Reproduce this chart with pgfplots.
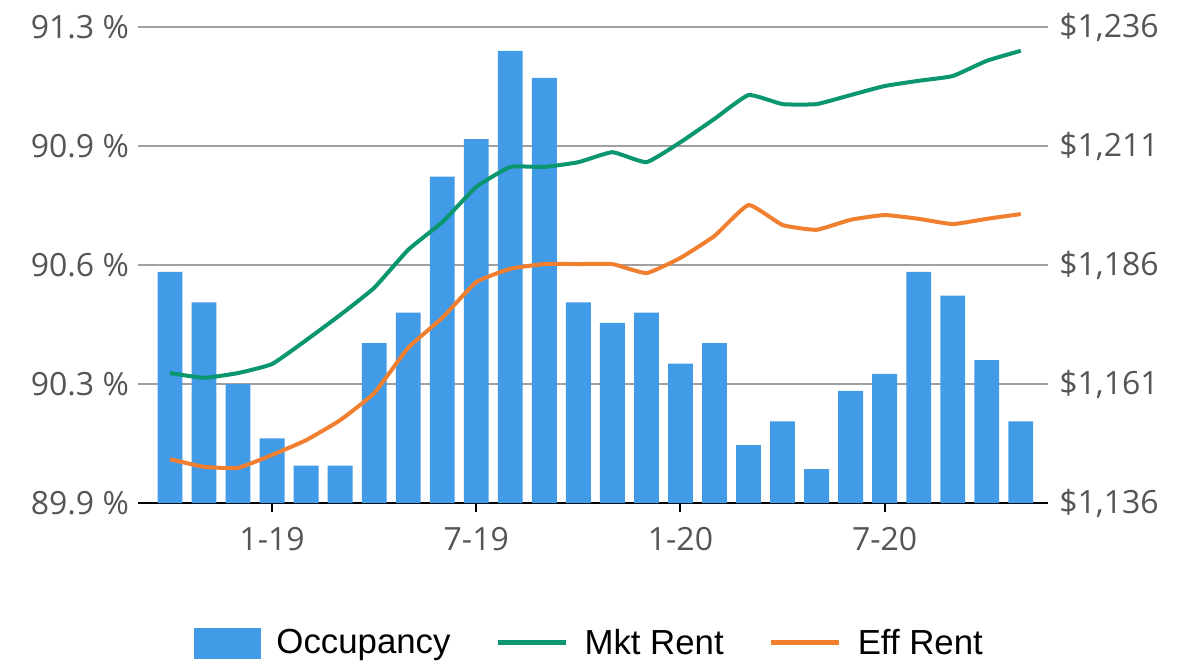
\documentclass[border=0pt]{standalone}
\usepackage{pgfplots}
\pgfplotsset{compat=1.18}
\usepackage{fontspec}
\setmainfont{Open Sans}
\newfontfamily\legfont{Liberation Sans}
\definecolor{barblue}{RGB}{66,155,230}
\definecolor{mktgreen}{RGB}{10,150,110}
\definecolor{efforange}{RGB}{240,128,48}
\definecolor{txtgray}{RGB}{85,85,85}
\definecolor{gridgray}{RGB}{160,160,160}
\begin{document}
\begin{tikzpicture}
\useasboundingbox (-69pt,-81pt) rectangle (528pt,251.5pt);
\pgfplotsset{
  common/.style={
    scale only axis, width=455pt, height=238pt,
    at={(0,0)}, anchor=south west,
    xmin=-0.94, xmax=25.8,
    font=\fontsize{16}{19}\selectfont,
    tick label style={text=txtgray},
  }
}
\begin{axis}[common,
  ymin=89.9, ymax=91.3,
  axis x line=bottom, axis y line=left,
  x axis line style={-, black, line width=1pt},
  y axis line style={draw=none},
  xtick={3,9,15,21},
  xticklabels={1-19,7-19,1-20,7-20},
  xtick style={black, line width=1pt},
  tick align=outside,
  major tick length=4.5pt,
  ytick={89.9,90.25,90.6,90.95,91.3},
  yticklabels={89.9 \%,90.3 \%,90.6 \%,90.9 \%,91.3 \%},
  ytick style={draw=none},
  ymajorgrids, grid style={gridgray, line width=1pt},
  yticklabel style={xshift=3.5pt},
  xticklabel style={yshift=-4pt},
]
\addplot[ybar, bar width=0.73, fill=barblue, draw=none] coordinates {
(0,90.58) (1,90.49) (2,90.25) (3,90.09) (4,90.01) (5,90.01) (6,90.37) (7,90.46)
(8,90.86) (9,90.97) (10,91.23) (11,91.15) (12,90.49) (13,90.43) (14,90.46) (15,90.31)
(16,90.37) (17,90.07) (18,90.14) (19,90.00) (20,90.23) (21,90.28) (22,90.58) (23,90.51)
(24,90.32) (25,90.14)};
\end{axis}
\begin{axis}[common,
  ymin=1136, ymax=1236,
  axis x line=none,
  axis y line=right,
  y axis line style={draw=none},
  ytick={1136,1161,1186,1211,1236},
  yticklabels={{\$1,136},{\$1,161},{\$1,186},{\$1,211},{\$1,236}},
  ytick style={draw=none},
  yticklabel style={xshift=0pt},
  legend columns=3,
  legend style={draw=none, fill=none, at={(0.497,-0.294)}, anchor=center,
    font=\legfont\fontsize{17.4}{20}\selectfont, text=black,
    /tikz/every odd column/.append style={column sep=6pt},
    /tikz/every even column/.append style={column sep=20.5pt},
    inner sep=0pt},
  legend cell align=left,
]
\addlegendimage{legend image code/.code={\fill[barblue] (0pt,-7.5pt) rectangle (33pt,7.5pt);}}
\addlegendentry{Occupancy}
\addplot[mktgreen, line width=2pt, line join=round, smooth, tension=0.25,
  legend image code/.code={\draw[mktgreen, line width=2.5pt] (0pt,0pt) -- (34pt,0pt);}] coordinates {
(0,1163.3) (1,1162.3) (2,1163.3) (3,1165.2) (4,1170.2) (5,1175.5) (6,1181.2) (7,1189.2)
(8,1195.0) (9,1202.4) (10,1206.6) (11,1206.6) (12,1207.6) (13,1209.7) (14,1207.6) (15,1211.8)
(16,1216.7) (17,1221.7) (18,1219.8) (19,1219.8) (20,1221.7) (21,1223.6) (22,1224.7) (23,1225.7)
(24,1228.9) (25,1231.0)};
\addlegendentry{Mkt Rent}
\addplot[efforange, line width=2pt, line join=round, smooth, tension=0.25,
  legend image code/.code={\draw[efforange, line width=2.5pt] (0pt,0pt) -- (34pt,0pt);}] coordinates {
(0,1145.2) (1,1143.6) (2,1143.4) (3,1146.1) (4,1149.2) (5,1153.4) (6,1159.1) (7,1168.6)
(8,1174.9) (9,1182.4) (10,1185.2) (11,1186.2) (12,1186.2) (13,1186.2) (14,1184.3) (15,1187.5)
(16,1192.1) (17,1198.6) (18,1194.4) (19,1193.4) (20,1195.5) (21,1196.5) (22,1195.7) (23,1194.6)
(24,1195.7) (25,1196.7)};
\addlegendentry{Eff Rent}
\end{axis}
\end{tikzpicture}
\end{document}
